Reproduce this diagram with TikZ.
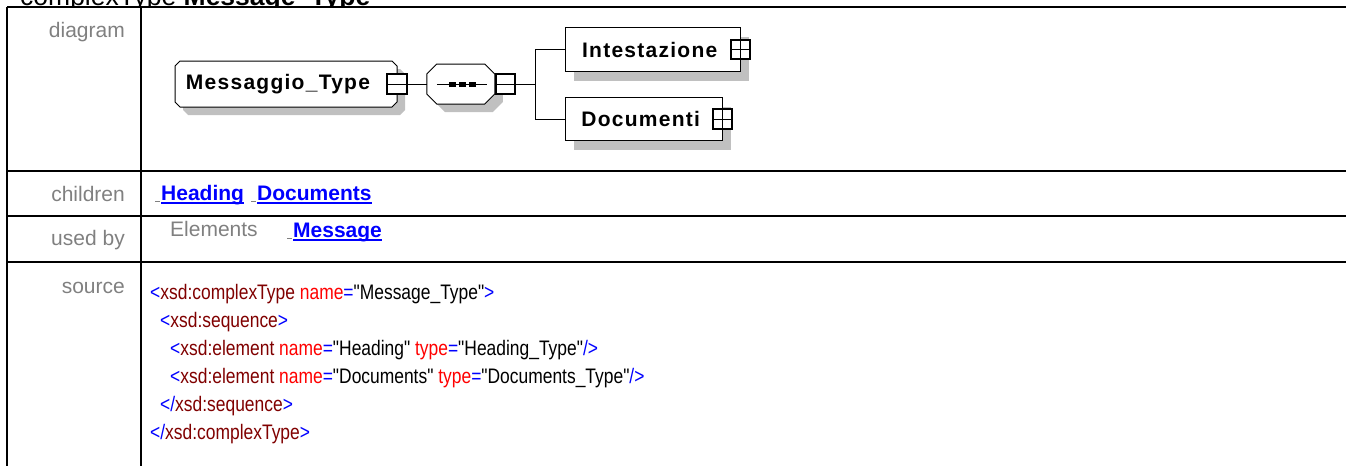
\documentclass[tikz,border=0pt]{standalone}
\usepackage{fontspec}
\setmainfont{Liberation Sans}
\newfontfamily\codefont[FakeStretch=0.83]{Liberation Sans}
\newfontfamily\nodefont[LetterSpace=6]{Liberation Sans}
\usepackage{tikz}
\usetikzlibrary{shadows, positioning, backgrounds}
\definecolor{LabelGray}{RGB}{128,128,128}
\definecolor{ShadowGray}{RGB}{192,192,192}
\definecolor{LinkBlue}{RGB}{0,0,255}
\definecolor{TagRed}{RGB}{128,0,0}
\definecolor{AttrRed}{RGB}{255,0,0}
\newcommand{\pc}[1]{\textcolor{LinkBlue}{#1}}
\newcommand{\tg}[1]{\textcolor{TagRed}{#1}}
\newcommand{\at}[1]{\textcolor{AttrRed}{#1}}
% octagon round a node: #1 node, #2 chamfer
\newcommand{\octpath}[2]{([xshift=#2]#1.north west) -- ([xshift=-#2]#1.north east)
  -- ([yshift=-#2]#1.north east) -- ([yshift=#2]#1.south east)
  -- ([xshift=-#2]#1.south east) -- ([xshift=#2]#1.south west)
  -- ([yshift=#2]#1.south west) -- ([yshift=-#2]#1.north west) -- cycle}

\begin{document}
\begin{tikzpicture}[
  x=1pt, y=-1pt,
  font=\fontsize{21}{25}\selectfont,
  grid/.style={line width=2pt},
  rowlabel/.style={anchor=base east, inner sep=0pt, text=LabelGray},
  ctype/.style={rectangle, inner sep=0pt, outer sep=0pt,
                font=\nodefont\bfseries\fontsize{21}{25}\selectfont},
  octline/.style={draw, fill=white, line width=1pt},
  octshadow/.style={fill=ShadowGray, transform canvas={xshift=8pt, yshift=-8pt}},
  elem/.style={rectangle, draw, fill=white, inner sep=0pt,
               drop shadow={shadow xshift=9pt, shadow yshift=-9pt, fill=ShadowGray, opacity=1},
               font=\nodefont\bfseries\fontsize{21}{25}\selectfont},
  expand/.style={rectangle, draw, fill=white, line width=2pt, minimum size=19.5pt, inner sep=0pt},
  minus/.style={expand, path picture={
      \draw[line width=0.8pt] (path picture bounding box.west) -- (path picture bounding box.east);}},
  plus/.style={expand, path picture={
      \draw[line width=0.8pt] (path picture bounding box.west) -- (path picture bounding box.east)
                              (path picture bounding box.north) -- (path picture bounding box.south);}},
  conn/.style={line width=1pt},
  link/.style={anchor=base west, inner sep=0pt, text=LinkBlue, font=\bfseries\fontsize{21}{25}\selectfont},
  code/.style={anchor=base west, inner sep=0pt, font=\codefont\fontsize{21}{25}\selectfont}
]
\useasboundingbox (0,0) rectangle (1346,466);

% title, cut at the top
\begin{scope}
  \clip (0,0) rectangle (1346,6);
  \node[anchor=base west, inner sep=0pt, font=\fontsize{26.5}{30}\selectfont] (title) at (20,5)
    {complexType \textbf{Message\_Type}};
\end{scope}

% table
\foreach \y in {7,171,216,262}
  \draw[grid] (7,\y) -- (1346,\y);
\draw[grid] (7,7) -- (7,466);
\draw[grid] (141,7) -- (141,466);

% row labels
\node[rowlabel] (lbdiag)  at (125,37.5) {diagram};
\node[rowlabel] (lbchild) at (125,201)  {children};
\node[rowlabel] (lbused)  at (125,245)  {used by};
\node[rowlabel] (lbsrc)   at (125,293)  {source};

% diagram
\node[ctype, minimum width=222pt, minimum height=46pt] (msg) at (286,84) {Messaggio\_Type\kern16pt};
\node[minus] (msgx) at (msg.east) {};
\node[ctype, minimum width=68pt, minimum height=40pt, right=19pt of msgx] (seq) {};
\node[minus, right=0pt of seq] (seqx) {};
\coordinate[right=19pt of seqx] (br);
\node[elem, minimum width=175pt, minimum height=44pt, anchor=west] (int) at (565,49.5) {Intestazione\kern6pt};
\node[plus] (intx) at (int.east) {};
\node[elem, minimum width=157pt, minimum height=43pt, anchor=west] (doc) at (565,119) {Documenti\kern6pt};
\node[plus] (docx) at (doc.east) {};

\begin{scope}[on background layer]
  \fill[octshadow] \octpath{msg}{5pt};
  \draw[octline] \octpath{msg}{5pt};
  \fill[octshadow] \octpath{seq}{10pt};
  \draw[octline] \octpath{seq}{10pt};
\end{scope}

\draw[conn] ([xshift=10pt]seq.west) -- ([xshift=-8pt]seq.east);
\foreach \dx in {-8,2,12}
  \fill ([xshift=\dx pt]seq.center) ++(-3.5pt,-2.5pt) rectangle ++(7pt,5pt);

\draw[conn] (msgx) -- (seq);
\draw[conn] (seqx) -- (br);
\draw[conn] (br) |- (int);
\draw[conn] (br) |- (doc);

% children / used by
\node[link] (chhead) at (161,200) {Heading};
\node[link] (chdocs) at (257,200) {Documents};
\node[rowlabel, anchor=base west] (ubel) at (170,236.5) {Elements};
\node[link] (ubmsg) at (293,237) {Message};
\foreach \n in {chhead,chdocs,ubmsg} {
  \draw[LinkBlue, line width=1.5pt] ([yshift=-3pt]\n.base west) -- ([yshift=-3pt]\n.base east);
  \draw[LabelGray, line width=0.8pt] ([xshift=-6pt,yshift=-1pt]\n.base west) -- ([xshift=-1pt,yshift=-1pt]\n.base west);
}

% source
\node[code] (src1) at (150,299)   {\pc{<}\tg{xsd:complexType} \at{name}\pc{=}"Message\_Type"\pc{>}};
\node[code] (src2) at (160,327.3) {\pc{<}\tg{xsd:sequence}\pc{>}};
\node[code] (src3) at (170,355.5) {\pc{<}\tg{xsd:element} \at{name}\pc{=}"Heading" \at{type}\pc{=}"Heading\_Type"\pc{/>}};
\node[code] (src4) at (170,383.6) {\pc{<}\tg{xsd:element} \at{name}\pc{=}"Documents" \at{type}\pc{=}"Documents\_Type"\pc{/>}};
\node[code] (src5) at (160,411.7) {\pc{</}\tg{xsd:sequence}\pc{>}};
\node[code] (src6) at (150,439.8) {\pc{</}\tg{xsd:complexType}\pc{>}};

\end{tikzpicture}
\end{document}
